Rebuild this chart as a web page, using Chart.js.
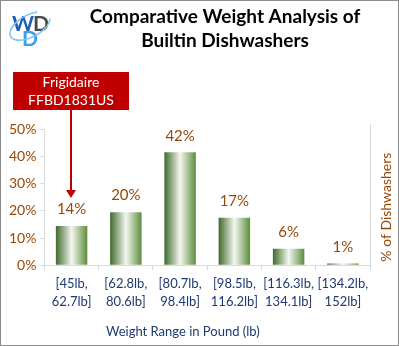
<!DOCTYPE html>
<html>
<head>
<meta charset="utf-8">
<script src="https://cdn.jsdelivr.net/npm/chart.js@4"></script>
<style>
html,body{margin:0;padding:0;background:#fff;}
#wrap{position:relative;width:397px;height:344px;border:1px solid #8c8c8c;}
canvas{display:block;}
</style>
</head>
<body>
<div id="wrap"><canvas id="c" width="397" height="344"></canvas></div>
<script>
const categories = [["[45lb,","62.7lb]"],["[62.8lb,","80.6lb]"],["[80.7lb,","98.4lb]"],["[98.5lb,","116.2lb]"],["[116.3lb,","134.1lb]"],["[134.2lb,","152lb]"]];
const percentValues = [14.4, 19.5, 41.5, 17.4, 6.1, 0.7];
const percentLabels = ["14%","20%","42%","17%","6%","1%"];
const yTicks = [0,10,20,30,40,50];
const titleLines = ["Comparative Weight Analysis of","Builtin Dishwashers"];
const xTitle = "Weight Range in Pound (lb)";
const yTitle = "% of Dishwashers";
const calloutLines = ["Frigidaire","FFBD1831US"];
const calloutIndex = 0;

const FONT = "Lato, 'Open Sans', sans-serif";
const BROWN = "#984807";
const NAVY = "#1f3a6e";
const BAR_PCT = 0.58;

function barGradient(ctx, left, right){
  const g = ctx.createLinearGradient(left,0,right,0);
  g.addColorStop(0,"#3f6a2b");
  g.addColorStop(0.5,"#f4f7f0");
  g.addColorStop(1,"#5d8d3c");
  return g;
}

const extras = {
  id:"extras",
  afterDatasetsDraw(chart){
    const ctx = chart.ctx;
    const area = chart.chartArea;
    ctx.save();
    // data labels
    ctx.fillStyle = BROWN;
    ctx.font = "15px " + FONT;
    ctx.textAlign = "center";
    ctx.textBaseline = "bottom";
    const meta = chart.getDatasetMeta(0);
    meta.data.forEach((b,i)=>{
      ctx.fillText(percentLabels[i], b.x, b.y - 9);
    });
    // right axis line
    ctx.strokeStyle = "#d9d9d9";
    ctx.lineWidth = 1;
    ctx.beginPath();
    ctx.moveTo(area.right+0.5, area.top-5);
    ctx.lineTo(area.right+0.5, area.bottom);
    ctx.stroke();
    // right title
    ctx.save();
    ctx.translate(area.right + 16, (area.top+area.bottom)/2 + 10);
    ctx.rotate(-Math.PI/2);
    ctx.fillStyle = BROWN;
    ctx.font = "14px " + FONT;
    ctx.textAlign = "center";
    ctx.textBaseline = "middle";
    ctx.fillText(yTitle,0,0);
    ctx.restore();
    // x axis title (left of centre, as in the original)
    ctx.fillStyle = NAVY;
    ctx.font = "13px " + FONT;
    ctx.textAlign = "center";
    ctx.textBaseline = "middle";
    ctx.fillText(xTitle, area.left + (area.right-area.left)*0.425, chart.scales.x.bottom - 4 - 8);
    // title
    ctx.fillStyle = "#000";
    ctx.font = "bold 19px " + FONT;
    ctx.textAlign = "center";
    ctx.textBaseline = "middle";
    ctx.fillText(titleLines[0], 224, 16);
    ctx.fillText(titleLines[1], 224, 40);
    // callout
    const by = meta.data[calloutIndex].y;
    const boxL = 12, boxT = 71, boxW = 116, boxH = 38;
    ctx.fillStyle = "#c00000";
    ctx.fillRect(boxL, boxT, boxW, boxH);
    ctx.fillStyle = "#fff";
    ctx.font = "14px " + FONT;
    ctx.fillText(calloutLines[0], boxL+boxW/2, boxT+10);
    ctx.fillText(calloutLines[1], boxL+boxW/2, boxT+28);
    const ax = boxL + 58;
    const tipY = by - 28;
    ctx.strokeStyle = "#c00000";
    ctx.lineWidth = 2;
    ctx.beginPath();
    ctx.moveTo(ax, boxT+boxH);
    ctx.lineTo(ax, tipY-6);
    ctx.stroke();
    ctx.fillStyle = "#c00000";
    ctx.beginPath();
    ctx.moveTo(ax-5, tipY-8);
    ctx.lineTo(ax+5, tipY-8);
    ctx.lineTo(ax, tipY);
    ctx.closePath();
    ctx.fill();
    // logo
    ctx.font = "bold 21px " + FONT;
    ctx.textAlign = "left";
    ctx.textBaseline = "alphabetic";
    ctx.fillStyle = "#1d5fb5";
    ctx.fillText("W", 11, 30);
    ctx.fillStyle = "#4a4a4a";
    ctx.fillText("D", 32, 30);
    ctx.fillStyle = "#3aa0e8";
    ctx.fillText("D", 21, 45);
    ctx.strokeStyle = "#7cc4f0";
    ctx.lineWidth = 1.5;
    ctx.beginPath();
    ctx.ellipse(29, 25, 22, 11, -0.5, 0.3, Math.PI*1.7);
    ctx.stroke();
    ctx.restore();
  }
};

new Chart(document.getElementById("c"), {
  type:"bar",
  data:{
    labels:categories,
    datasets:[{
      data:percentValues,
      backgroundColor:(c)=>{
        const ch = c.chart;
        const xs = ch.scales && ch.scales.x;
        if(!ch.chartArea || !xs) return "#5d8d3c";
        const cx = xs.getPixelForValue(c.dataIndex);
        const w = (xs.width / categories.length) * BAR_PCT;
        if(!isFinite(cx) || !isFinite(w) || w <= 0) return "#5d8d3c";
        return barGradient(ch.ctx, cx - w/2, cx + w/2);
      },
      borderWidth:0,
      barPercentage:BAR_PCT,
      categoryPercentage:1
    }]
  },
  options:{
    responsive:false,
    animation:false,
    layout:{padding:{left:4,right:28,top:128,bottom:1}},
    plugins:{legend:{display:false},tooltip:{enabled:false},title:{display:false}},
    scales:{
      x:{
        grid:{display:true,drawOnChartArea:false,drawTicks:true,tickLength:5,offset:true,color:"#d9d9d9"},
        border:{color:"#d9d9d9"},
        ticks:{color:NAVY,font:{family:FONT,size:13,lineHeight:1.35},maxRotation:0,autoSkip:false,padding:5},
        title:{display:true,text:xTitle,color:"rgba(0,0,0,0)",font:{family:FONT,size:13},padding:{top:9,bottom:4}}
      },
      y:{
        min:0,max:50,
        afterBuildTicks:(s)=>{s.ticks = yTicks.map(v=>({value:v}));},
        grid:{display:true,drawOnChartArea:false,drawTicks:true,tickLength:4,color:"#d9d9d9"},
        border:{color:"#d9d9d9"},
        ticks:{color:BROWN,font:{family:FONT,size:14},padding:4,callback:(v)=>v+"%"}
      }
    }
  },
  plugins:[extras]
});
</script>
</body>
</html>
